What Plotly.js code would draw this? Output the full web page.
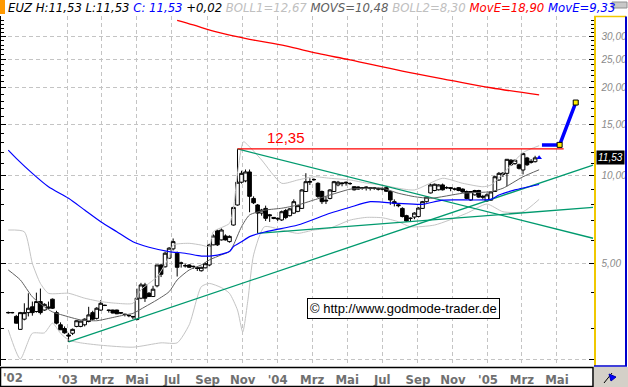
<!DOCTYPE html>
<html><head><meta charset="utf-8">
<script src="https://cdn.plot.ly/plotly-3.0.1.min.js"></script>
<style>html,body{margin:0;padding:0;background:#fff;overflow:hidden}#chart{width:628px;height:387px;}</style>
</head><body><div id="chart"></div>
<script>
// weekly candles, week 0 = 2002-09-19
const weekStart = Date.UTC(2002, 8, 19);
const openV  = [3.40,3.40,3.30,2.98,3.23,3.40,3.56,3.43,3.71,3.47,3.52,3.78,3.40,3.09,3.00,2.85,2.89,3.05,3.05,3.09,
 3.17,3.40,3.25,3.47,3.60,3.47,3.47,3.47,3.40,3.36,3.33,3.30,3.22,3.81,4.23,3.96,3.86,4.20,4.95,4.88,
 5.22,5.62,5.43,5.03,4.92,4.95,4.90,4.84,4.73,4.84,4.95,5.80,6.48,6.03,6.22,5.95,6.78,7.94,9.50,9.60,
 10.30,8.36,7.94,7.45,7.73,7.35,7.20,7.15,7.06,7.60,7.30,7.45,7.55,7.73,8.83,9.50,9.70,9.42,8.83,8.25,
 8.36,8.83,9.30,9.45,9.50,9.40,9.17,9.15,9.10,9.15,9.10,9.10,9.05,9.05,9.10,8.83,8.15,7.95,7.73,7.30,
 7.15,7.22,7.25,7.73,8.15,8.73,8.90,8.95,9.30,9.10,9.10,9.00,9.10,9.00,8.83,8.26,8.60,8.90,8.50,8.20,
 8.25,8.83,9.67,10.10,10.19,11.30,11.00,10.90,10.46,11.50,11.10,11.17,11.53];
const highV  = [3.43,3.42,3.34,3.42,3.66,3.96,3.71,3.98,4.11,3.66,3.71,3.80,3.45,3.15,3.05,2.90,3.00,3.20,3.19,3.25,
 3.56,3.45,3.55,3.75,3.62,3.48,3.48,3.48,3.41,3.37,3.34,3.31,4.11,4.30,4.30,4.00,4.20,4.95,5.00,5.50,
 5.70,6.10,5.50,5.08,5.00,4.98,4.92,4.86,4.88,5.05,5.85,6.30,6.55,6.60,6.30,6.25,7.85,12.35,10.40,10.50,
 10.50,8.50,8.00,7.70,7.90,7.40,7.22,7.20,7.60,7.70,7.75,8.30,7.90,9.00,10.20,9.80,9.80,9.50,8.90,8.50,
 9.00,9.60,9.60,9.50,9.55,9.50,9.20,9.20,9.15,9.20,9.15,9.15,9.10,9.10,9.20,8.90,8.30,8.05,7.80,7.35,
 7.20,7.50,7.80,8.20,8.50,9.40,9.40,9.35,9.40,9.20,9.15,9.10,9.15,9.05,8.90,8.85,8.95,8.95,8.60,8.70,
 8.85,10.00,10.30,10.30,11.40,11.40,11.35,11.00,11.95,11.60,11.40,11.70,11.53];
const lowV   = [3.37,3.38,3.12,2.97,3.20,3.30,3.32,3.40,3.35,3.45,3.50,3.50,3.10,2.97,2.88,2.70,2.85,3.03,3.03,3.05,
 3.15,3.20,3.22,3.45,3.58,3.40,3.38,3.36,3.36,3.30,3.28,3.23,3.20,3.78,3.70,3.85,3.85,4.15,4.50,4.85,
 5.20,5.55,4.52,4.85,4.85,4.84,4.80,4.72,4.70,4.82,4.90,5.78,5.75,6.00,6.00,5.90,6.75,7.90,9.40,9.50,
 7.50,8.00,6.35,7.30,7.00,6.95,7.10,7.00,7.00,7.10,7.25,7.40,7.50,7.70,8.80,9.30,9.60,8.40,8.00,8.00,
 8.30,8.80,9.20,9.20,9.25,9.30,8.90,8.95,8.95,8.90,8.90,8.95,8.90,8.90,8.80,7.95,7.85,7.80,7.20,6.95,
 6.95,7.10,7.20,7.70,8.10,8.70,8.85,8.90,8.90,9.00,8.85,8.90,8.85,8.75,8.30,8.20,8.55,8.40,8.30,8.15,
 8.20,8.80,9.60,9.90,9.20,10.80,10.90,10.50,10.10,10.80,11.00,11.10,11.53];
const closeV = [3.40,3.40,3.13,3.40,3.40,3.52,3.40,3.71,3.40,3.63,3.55,3.52,3.13,2.97,2.90,2.83,2.98,3.19,3.18,3.23,
 3.34,3.23,3.52,3.66,3.60,3.46,3.39,3.37,3.39,3.35,3.32,3.29,3.81,4.23,3.81,3.86,4.09,4.95,4.60,5.43,
 5.65,5.95,4.86,5.02,4.92,4.86,4.89,4.82,4.86,5.00,5.80,6.22,5.80,6.52,6.03,6.20,7.79,9.50,10.19,10.30,
 8.50,8.08,7.45,7.63,7.15,7.30,7.15,7.12,7.53,7.20,7.70,8.15,7.90,8.94,9.54,9.55,9.70,8.50,8.15,8.20,
 8.94,9.54,9.50,9.40,9.45,9.40,8.95,9.00,9.05,9.10,9.05,9.05,9.00,9.00,8.85,8.26,8.05,7.90,7.25,7.00,
 7.15,7.45,7.75,8.15,8.45,9.30,9.35,9.30,8.95,9.10,9.05,9.00,8.90,8.80,8.36,8.83,8.90,8.45,8.45,8.60,
 8.80,9.92,10.19,10.20,11.38,10.90,11.30,10.60,11.90,10.90,11.20,11.51,11.53];

// indicator lines: week positions and values
const movsWeek = [0,3,6,9,11,15,18,22,25,29,31,34,37,40,42,45,48,50,53,55,56,58,60,64,68,72,76,80,85,89,93,97,101,105,113,120,123,128,132];
const movsVal  = [4.76,4.40,3.85,3.56,3.42,3.29,3.21,3.19,3.25,3.34,3.38,3.56,3.76,4.01,4.40,4.76,4.95,5.15,5.36,5.50,5.79,6.69,7.34,7.63,7.74,7.94,8.26,8.59,8.99,9.06,9.06,8.71,8.48,8.37,8.71,8.82,9.06,9.92,10.48];
const emaBWeek = [0,2,6,10,15,19,23,27,31,35,40,44,48,50,52,55,56,58,60,64,72,80,85,90,97,103,108,120,122,126,132];
const emaBVal  = [12.24,11.47,10.19,9.17,8.37,7.63,6.96,6.43,5.94,5.69,5.50,5.43,5.31,5.31,5.35,5.50,5.72,5.94,6.19,6.43,6.78,7.44,7.80,8.15,8.04,7.98,8.25,8.30,8.59,8.94,9.33];
const emaRWeek = [42,46,52,60,69,77,85,98,110,120,132];
const emaRVal  = [34.0,32.8,31.0,29.3,27.8,26.2,24.9,22.8,21.2,20.0,18.9];
const bbUpWeek = [0,4,6,8,10,15,19,23,27,31,33,37,40,41,45,48,50,51,55,56,57,58.5,60,63,68,72,76,80,85,89,93,97,101,108,113,118,120,124,128,132];
const bbUpVal  = [6.52,6.43,5.01,4.28,3.96,3.96,3.81,3.71,3.66,3.66,4.07,4.51,5.28,5.79,5.87,5.79,5.72,6.43,6.87,7.74,10.19,13.07,12.56,11.32,9.42,9.67,9.92,9.80,9.67,9.44,9.29,9.06,8.94,9.80,9.42,9.17,9.29,10.5,12.0,12.67];
const bbLoWeek = [0,3,6,9,11,13,15,18,23,31,38,42,45,48,50,53,55,57,58.3,59.6,61,63.7,68,72,76,80,85,89,93,97,100,106,114,119,123,128,132];
const bbLoVal  = [2.97,2.36,2.89,2.90,3.13,2.89,2.74,2.68,2.63,2.59,2.68,2.68,3.09,4.17,4.28,4.14,3.96,3.47,2.92,3.76,5.36,6.69,6.52,6.35,6.52,6.62,7.05,7.20,7.18,6.96,6.69,6.78,7.44,8.00,7.53,7.53,8.30];

// trend lines (start/end week, value)
const trendUpWeek = [15,145.4],  trendUpVal = [2.70,10.88];
const trendLoWeek = [62,145.4],  trendLoVal = [6.35,7.79];
const trendDnWeek = [57,145.4],  trendDnVal = [12.35,6.11];
const resistWeek  = [57,138.1],  resistVal  = [12.35,12.35];
const projWeek    = [132.7,137.1,141.1], projVal = [12.75,12.75,17.8];

const xTickDates = ['2003-01-01','2003-03-01','2003-05-01','2003-07-01','2003-09-01','2003-11-01','2004-01-01','2004-03-01','2004-05-01','2004-07-01','2004-09-01','2004-11-01','2005-01-01','2005-03-01','2005-05-01'];
const xTickText  = ["'03",'Mrz','Mai','Jul','Sep','Nov',"'04",'Mrz','Mai','Jul','Sep','Nov',"'05",'Mrz','Mai'];
const yTickVals  = [2.35,5,10,15,20,25,30,35];
const yTickText  = ['','5,00','10,00','15,00','20,00','25,00','30,00',''];
const yMinor     = [3,4,6,7,8,9,11,12,13,14,16,17,18,19,21,22,23,24,26,27,28,29,31,32,33,34];

function wk(w){ return new Date(weekStart + w*7*864e5).toISOString().slice(0,16).replace('T',' '); }
const n = closeV.length;
const candleN = n - 1;
const dates = []; for (let i=0;i<n;i++) dates.push(wk(i));

const L = 1, R = 594, T = 16, B = 366;
const px = X => (X - L)/(R - L);
const py = Y => (B - Y)/(B - T);

const lineTrace = (w, v, color, width, extra) => Object.assign({
  type:'scatter', mode:'lines', x:w.map(wk), y:v, hoverinfo:'skip',
  line:{color:color, width:width}, showlegend:false}, extra||{});

const traces = [
  lineTrace(bbUpWeek, bbUpVal, '#c4c4c4', 1, {line:{color:'#c4c4c4',width:1,shape:'spline',smoothing:0.6}}),
  lineTrace(bbLoWeek, bbLoVal, '#c4c4c4', 1, {line:{color:'#c4c4c4',width:1,shape:'spline',smoothing:0.6}}),
  lineTrace(emaRWeek, emaRVal, '#ff0000', 1.3, {line:{color:'#ff0000',width:1.3,shape:'spline'}}),
  lineTrace(trendUpWeek, trendUpVal, '#009a6e', 1.3),
  lineTrace(trendLoWeek, trendLoVal, '#009a6e', 1.3),
  lineTrace(trendDnWeek, trendDnVal, '#009a6e', 1.3),
  lineTrace(movsWeek, movsVal, '#606060', 1, {line:{color:'#606060',width:1,shape:'spline',smoothing:0.6}}),
  lineTrace(emaBWeek, emaBVal, '#0000ff', 1.2, {line:{color:'#0000ff',width:1.2,shape:'spline',smoothing:0.6}}),
  lineTrace(resistWeek, resistVal, '#ff0000', 1.3),
  {
    type:'candlestick', x:dates.slice(0,candleN), open:openV.slice(0,candleN), high:highV.slice(0,candleN),
    low:lowV.slice(0,candleN), close:closeV.slice(0,candleN), hoverinfo:'skip', showlegend:false,
    whiskerwidth:0,
    increasing:{line:{color:'#000',width:1}, fillcolor:'#ffffff'},
    decreasing:{line:{color:'#000',width:1}, fillcolor:'#000000'}
  },
  {type:'scatter', mode:'markers', x:[dates[n-1]], y:[closeV[n-1]], hoverinfo:'skip', showlegend:false,
   marker:{symbol:'triangle-up', size:5, color:'#0000ff'}},
  lineTrace(projWeek, projVal, '#0000ff', 3.5),
  {type:'scatter', mode:'markers', x:projWeek.slice(1).map(wk), y:projVal.slice(1), hoverinfo:'skip', showlegend:false,
   marker:{symbol:'square', size:5, color:'#ffee00', line:{color:'#000', width:1}}},
  {type:'scatter', mode:'markers', x:[dates[0]], y:[closeV[0]], yaxis:'y2', hoverinfo:'skip', showlegend:false,
   marker:{opacity:0}}
];

const yRange = [Math.log10(2.233), Math.log10(35.2)];
const xRange = ['2002-09-06 09:36', '2005-07-04 12:00'];

const head = '<span style="color:#000">EUZ H:11,53 L:11,53 </span>' +
  '<span style="color:#0000ff">C: 11,53 </span>' +
  '<span style="color:#000">+0,02 </span>' +
  '<span style="color:#c0c0c0">BOLL1=12,67 </span>' +
  '<span style="color:#606060">MOVS=10,48 </span>' +
  '<span style="color:#c0c0c0">BOLL2=8,30 </span>' +
  '<span style="color:#ff0000">MovE=18,90 </span>' +
  '<span style="color:#0000ff">MovE=9,33</span>';

const narrow = 'Liberation Sans Narrow, DejaVu Sans Condensed, Arial Narrow, sans-serif';

const layout = {
  width:628, height:387,
  margin:{l:L, r:628-R, t:T, b:387-B, pad:0},
  paper_bgcolor:'#ffffff', plot_bgcolor:'#ffffff',
  showlegend:false, boxgap:0.1, boxgroupgap:0,
  font:{family:'Liberation Sans, Arial, sans-serif', size:11, color:'#000'},
  xaxis:{
    type:'date', range:xRange, rangeslider:{visible:false},
    tickmode:'array', tickvals:xTickDates, ticktext:xTickText,
    showgrid:true, gridcolor:'#c4c4c4', griddash:'4px,3px', gridwidth:1,
    ticks:'', showline:false, zeroline:false, ticklabelstandoff:4,
    tickfont:{family:narrow, size:13, color:'#707070', weight:'bold'}
  },
  yaxis:{
    type:'log', range:yRange, side:'right',
    tickmode:'array', tickvals:yTickVals, ticktext:yTickText,
    showgrid:true, gridcolor:'#c4c4c4', griddash:'4px,3px', gridwidth:1,
    ticks:'inside', ticklen:5, tickcolor:'#000', tickwidth:1,
    minor:{tickmode:'array', tickvals:yMinor, ticks:'inside', ticklen:3, tickcolor:'#000', showgrid:false},
    showline:true, linecolor:'#f0c800', linewidth:1.5, zeroline:false, ticklabelstandoff:4,
    tickfont:{family:'Liberation Sans, Arial, sans-serif', size:10, color:'#8a8a8a', style:'italic'}
  },
  yaxis2:{
    type:'log', range:yRange, side:'left', overlaying:'y',
    tickmode:'array', tickvals:yTickVals, showticklabels:false,
    showgrid:false, ticks:'inside', ticklen:5, tickcolor:'#000',
    minor:{tickmode:'array', tickvals:yMinor, ticks:'inside', ticklen:3, tickcolor:'#000', showgrid:false},
    showline:true, linecolor:'#000', linewidth:1.5, zeroline:false
  },
  annotations:[
    {xref:'paper', yref:'paper', x:px(6), y:py(8), xanchor:'left', yanchor:'middle', showarrow:false,
     text:head, font:{family:narrow, size:13, style:'italic'}},
    {xref:'paper', yref:'paper', x:px(1), y:py(377), xanchor:'left', yanchor:'middle', showarrow:false,
     text:"'02", font:{family:narrow, size:13, color:'#707070', weight:'bold'}},
    {xref:'x', yref:'y', x:wk(69), y:Math.log10(resistVal[0]), yanchor:'bottom', xanchor:'center', yshift:1, showarrow:false,
     text:'12,35', font:{family:'Liberation Sans, Arial, sans-serif', size:15, color:'#ff0000'}},
    {xref:'paper', yref:'y', x:px(596), y:Math.log10(closeV[n-1]), xanchor:'left', yanchor:'middle', showarrow:false,
     text:'11,53', bgcolor:'#000', borderpad:1, font:{family:'Liberation Sans, Arial, sans-serif', size:10, color:'#fff', style:'italic'}},
    {xref:'paper', yref:'paper', x:px(403.7), y:py(308.8), xanchor:'center', yanchor:'middle', showarrow:false,
     text:'© http://www.godmode-trader.de', bgcolor:'#fff', bordercolor:'#000', borderwidth:1, borderpad:2,
     font:{family:'Liberation Sans, Arial, sans-serif', size:13, color:'#000'}}
  ],
  shapes:[
    {type:'rect', xref:'paper', yref:'paper', x0:px(0), x1:px(5), y0:py(14), y1:py(0), fillcolor:'#ff9900', line:{width:0}},
    {type:'rect', xref:'paper', yref:'paper', x0:px(612), x1:px(627), y0:py(8), y1:py(2), fillcolor:'#c8c8c8', line:{color:'#909090', width:1}},
    {type:'line', xref:'paper', yref:'paper', x0:px(594), x1:px(626), y0:py(16.5), y1:py(16.5), line:{color:'#f0c800', width:1.5}},
    {type:'line', xref:'paper', yref:'paper', x0:px(626), x1:px(626), y0:py(16.5), y1:py(366), line:{color:'#0000cc', width:2}},
    {type:'line', xref:'paper', yref:'paper', x0:px(594), x1:px(627), y0:py(366), y1:py(366), line:{color:'#0000cc', width:1.5}},
    {type:'rect', xref:'paper', yref:'paper', x0:px(0.5), x1:px(593), y0:py(386.5), y1:py(367.5), line:{color:'#000', width:1.5}, fillcolor:'rgba(0,0,0,0)'},
    {type:'rect', xref:'paper', yref:'paper', x0:px(594), x1:px(628), y0:py(387), y1:py(367), fillcolor:'#d4d0c8', line:{width:0}},
    {type:'line', xref:'paper', yref:'paper', x0:px(604), x1:px(612), y0:py(383), y1:py(373), line:{color:'#000', width:1}},
    {type:'path', xref:'paper', yref:'paper', path:`M ${px(609)} ${py(374)} L ${px(616)} ${py(377)} L ${px(611)} ${py(381)} Z`, fillcolor:'#0000ff', line:{color:'#0000aa', width:1}}
  ]
};

Plotly.newPlot('chart', traces, layout, {displayModeBar:false, staticPlot:true});
</script></body></html>
